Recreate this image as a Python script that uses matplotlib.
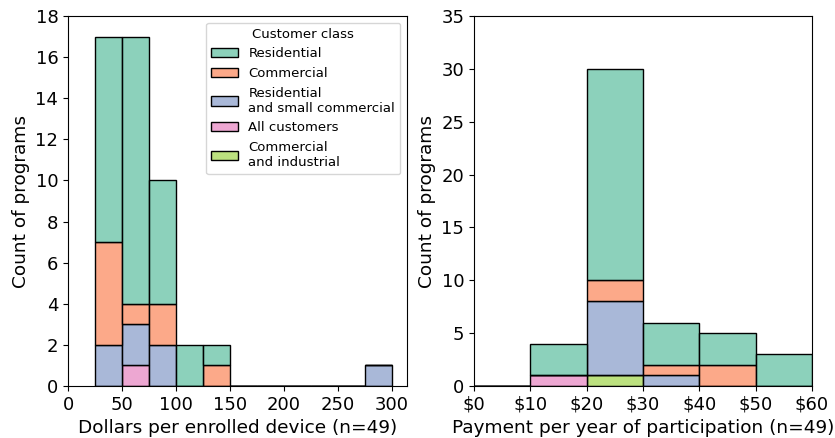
import numpy as np
import matplotlib.pyplot as plt
from matplotlib.colors import to_rgba
from matplotlib.patches import Patch
from matplotlib.ticker import FuncFormatter

# --------------------
# Data (counts per bin)
# --------------------
classes = ["Residential", "Commercial", "Residential\nand small commercial",
           "All customers", "Commercial\nand industrial"]
colors = ["#66c2a5", "#fc8d62", "#8da0cb", "#e78ac3", "#a6d854"]

# left: dollars per enrolled device, bins of 25 from 25 to 300
device_edges = np.arange(25, 301, 25)
device_res = [10, 13, 6, 2, 1, 0, 0, 0, 0, 0, 0]
device_com = [5, 1, 2, 0, 1, 0, 0, 0, 0, 0, 0]
device_rsc = [2, 2, 2, 0, 0, 0, 0, 0, 0, 0, 1]
device_all = [0, 1, 0, 0, 0, 0, 0, 0, 0, 0, 0]
device_ci = [0, 0, 0, 0, 0, 0, 0, 0, 0, 0, 0]

# right: payment per year, bins of 10 from 0 to 60
pay_edges = np.arange(0, 61, 10)
pay_res = [0, 3, 20, 4, 3, 3]
pay_com = [0, 0, 2, 1, 2, 0]
pay_rsc = [0, 0, 7, 1, 0, 0]
pay_all = [0, 1, 0, 0, 0, 0]
pay_ci = [0, 0, 1, 0, 0, 0]

device_counts = [device_res, device_com, device_rsc, device_all, device_ci]
pay_counts = [pay_res, pay_com, pay_rsc, pay_all, pay_ci]


def stacked_hist(ax, edges, counts):
    widths = np.diff(edges)
    bottom = np.zeros(len(widths))
    # last class sits at the bottom of the stack
    for i in reversed(range(len(counts))):
        h = np.array(counts[i], dtype=float)
        ax.bar(edges[:-1], h, width=widths, bottom=bottom, align="edge",
               facecolor=to_rgba(colors[i], 0.75), edgecolor="black",
               linewidth=1)
        bottom += h


plt.rcParams["font.family"] = "DejaVu Sans"
fig = plt.figure(figsize=(8.35, 4.38), dpi=100)
ax1 = fig.add_axes([68 / 835, 52 / 438, 339 / 835, 370 / 438])
ax2 = fig.add_axes([474 / 835, 52 / 438, 338 / 835, 370 / 438])

# --------------------
# Left panel
# --------------------
stacked_hist(ax1, device_edges, device_counts)
ax1.set_xlim(0, 313.75)
ax1.set_ylim(0, 18)
ax1.set_yticks(np.arange(0, 19, 2))
ax1.set_xticks(np.arange(0, 301, 50))
ax1.set_xlabel("Dollars per enrolled device (n=49)", fontsize=13.3)
ax1.set_ylabel("Count of programs", fontsize=13.3)
ax1.tick_params(labelsize=13)

handles = [Patch(facecolor=to_rgba(c, 0.75), edgecolor="black", linewidth=1)
           for c in colors]
ax1.legend(handles, classes, title="Customer class", loc="upper right",
           fontsize=9.5, title_fontsize=9.5)

# --------------------
# Right panel
# --------------------
stacked_hist(ax2, pay_edges, pay_counts)
ax2.set_xlim(0, 60)
ax2.set_ylim(0, 35)
ax2.set_xticks(pay_edges)
ax2.xaxis.set_major_formatter(FuncFormatter(lambda v, p: f"${v:.0f}"))
ax2.set_xlabel("Payment per year of participation (n=49)", fontsize=13.3)
ax2.set_ylabel("Count of programs", fontsize=13.3)
ax2.tick_params(labelsize=13)

plt.savefig("out.png", dpi=100)
